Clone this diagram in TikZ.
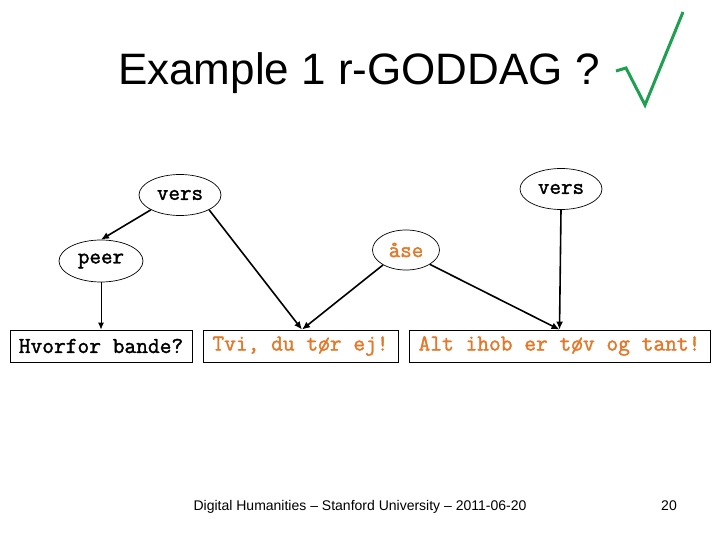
\documentclass[tikz,border=0pt]{standalone}
\usepackage{fontspec}
\setmainfont{Liberation Sans}
\newfontfamily\monof[FakeBold=1.6]{Latin Modern Mono}
\usetikzlibrary{shapes.geometric,arrows.meta}
\definecolor{orng}{RGB}{228,120,40}
\definecolor{chk}{RGB}{30,160,80}
\tikzset{
  elnode/.style={ellipse,draw,line width=0.7pt,inner sep=0pt,font=\monof\fontsize{22.4}{24}\selectfont},
  boxnode/.style={rectangle,draw,line width=0.8pt,inner sep=0pt,minimum height=32pt,font=\monof\fontsize{22.8}{24}\selectfont},
  conn/.style={line width=1.6pt,-{Latex[length=8pt,width=7pt]}},
  thinconn/.style={line width=1pt,-{Latex[length=7pt,width=6pt]}}
}
\begin{document}
\begin{tikzpicture}[x=1pt,y=-1pt]
\useasboundingbox (0,0) rectangle (720,540);
\node[anchor=base,font=\fontsize{44}{48}\selectfont] (title) at (359,85) {Example 1 r-GODDAG ?};
\draw[chk,line width=3pt,line join=miter] (616,71) -- (626,68) -- (645,105) -- (683,12);
\node[elnode,minimum width=82pt,minimum height=41pt] (v1) at (180,195) {vers};
\node[elnode,minimum width=82pt,minimum height=41pt] (v2) at (561,189) {vers};
\node[elnode,minimum width=67pt,minimum height=40pt,text=orng] (ase) at (406,250) {åse};
\node[elnode,minimum width=84pt,minimum height=42pt] (peer) at (101,261) {peer};
\node[boxnode,minimum width=182pt] (t1) at (101,346) {Hvorfor bande?};
\node[boxnode,minimum width=195pt,text=orng] (t2) at (300.5,346) {Tvi, du tør ej!};
\node[boxnode,minimum width=301pt,text=orng] (t3) at (559.5,346) {Alt ihob er tøv og tant!};
\draw[conn] (v1.207) -- (peer.north);
\draw[thinconn] (peer.south) -- (t1.north);
\draw[conn] (v1.-27) -- ([xshift=1.5pt]t2.north);
\draw[conn] (ase.213) -- ([xshift=1.5pt]t2.north);
\draw[conn] (ase.-31) -- (t3.north);
\draw[conn] (v2.south) -- (t3.north);
\node[anchor=base,font=\fontsize{14}{16}\selectfont] (foot) at (360,510) {Digital Humanities – Stanford University – 2011-06-20};
\node[anchor=base,font=\fontsize{14}{16}\selectfont] (page) at (669,510) {20};
\end{tikzpicture}
\end{document}
